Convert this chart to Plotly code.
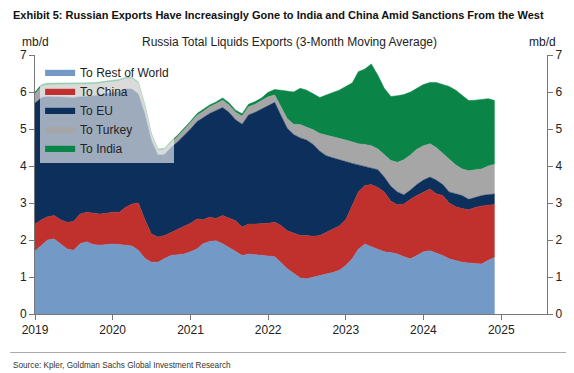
import pandas as pd
import plotly.graph_objects as go

dates = pd.date_range("2019-01-01", "2024-12-01", freq="MS")

rest_of_world = [1.70,1.85,2.00,2.03,1.90,1.76,1.72,1.90,1.95,1.88,1.86,1.88,
 1.89,1.88,1.86,1.84,1.72,1.50,1.40,1.40,1.50,1.58,1.60,1.62,
 1.68,1.76,1.90,1.96,1.98,1.90,1.80,1.68,1.58,1.62,1.60,1.58,
 1.58,1.55,1.40,1.22,1.10,0.97,0.95,1.00,1.04,1.08,1.12,1.18,
 1.31,1.50,1.75,1.89,1.82,1.75,1.68,1.66,1.62,1.55,1.49,1.58,
 1.68,1.71,1.65,1.58,1.49,1.44,1.40,1.38,1.36,1.35,1.45,1.53]

china = [0.73,0.70,0.63,0.63,0.65,0.72,0.78,0.80,0.80,0.84,0.84,0.84,
 0.86,0.87,1.02,1.13,1.28,1.05,0.76,0.68,0.62,0.62,0.68,0.74,
 0.77,0.81,0.65,0.66,0.60,0.76,0.80,0.84,0.77,0.81,0.83,0.85,
 0.87,0.93,1.00,1.03,1.08,1.15,1.17,1.10,1.08,1.12,1.16,1.20,
 1.24,1.45,1.55,1.58,1.68,1.67,1.62,1.39,1.33,1.42,1.61,1.62,
 1.62,1.67,1.60,1.62,1.51,1.46,1.45,1.44,1.52,1.57,1.49,1.43]

eu = [3.27,3.30,3.25,3.21,3.30,3.37,3.35,3.17,3.13,3.18,3.22,3.23,
 3.23,3.27,3.20,3.11,2.95,2.85,2.54,2.22,2.20,2.30,2.37,2.46,
 2.55,2.63,2.75,2.80,2.92,2.92,2.85,2.73,2.78,2.95,3.02,3.11,
 3.17,3.24,2.98,2.77,2.67,2.64,2.58,2.48,2.28,2.08,1.94,1.80,
 1.57,1.12,0.73,0.53,0.45,0.48,0.40,0.40,0.35,0.25,0.25,0.30,
 0.32,0.32,0.37,0.30,0.30,0.34,0.35,0.28,0.28,0.28,0.29,0.28]

turkey = [0.25,0.30,0.31,0.32,0.33,0.33,0.34,0.33,0.32,0.31,0.30,0.30,
 0.29,0.28,0.28,0.28,0.28,0.22,0.15,0.12,0.12,0.13,0.14,0.15,
 0.16,0.17,0.17,0.18,0.18,0.20,0.20,0.20,0.22,0.22,0.22,0.22,
 0.25,0.20,0.24,0.26,0.28,0.36,0.35,0.40,0.48,0.56,0.58,0.58,
 0.58,0.58,0.57,0.58,0.60,0.56,0.60,0.70,0.80,0.95,0.95,0.95,
 0.93,0.90,0.88,0.85,0.90,0.79,0.72,0.77,0.74,0.72,0.77,0.81]

india = [0.05,0.05,0.05,0.05,0.05,0.05,0.05,0.05,0.05,0.05,0.05,0.05,
 0.04,0.04,0.04,0.04,0.04,0.04,0.04,0.04,0.04,0.04,0.04,0.04,
 0.05,0.05,0.05,0.05,0.05,0.06,0.06,0.06,0.06,0.07,0.07,0.08,
 0.12,0.15,0.43,0.74,0.87,0.98,1.00,0.97,0.97,1.08,1.18,1.29,
 1.45,1.60,1.95,2.04,2.21,1.99,1.80,1.73,1.80,1.76,1.70,1.65,
 1.65,1.66,1.76,1.85,1.95,2.02,1.98,1.90,1.88,1.88,1.82,1.72]

series_names = ["To Rest of World", "To China", "To EU", "To Turkey", "To India"]
series_colors = ["#7399C6", "#C0312D", "#0C2F5B", "#A6A6A6", "#0B8547"]
series_values = [rest_of_world, china, eu, turkey, india]

year_ticks = ["2019", "2020", "2021", "2022", "2023", "2024", "2025"]
y_ticks = [0, 1, 2, 3, 4, 5, 6, 7]

fig = go.Figure()
for name, color, vals in zip(series_names, series_colors, series_values):
    fig.add_trace(go.Scatter(
        x=dates, y=vals, name=name, mode="lines",
        stackgroup="one", line=dict(width=0.5, color=color),
        fillcolor=color, hoverinfo="skip",
    ))

# invisible trace to activate right axis
fig.add_trace(go.Scatter(x=[dates[0]], y=[0], yaxis="y2", mode="markers",
                         marker=dict(opacity=0), showlegend=False, hoverinfo="skip"))

FONT = "Liberation Sans, Arial, sans-serif"
axis_font = dict(family=FONT, size=12, color="#222")
axis_common = dict(ticks="outside", ticklen=5, tickcolor="#777", showline=True,
                   linecolor="#777", linewidth=1, showgrid=False, zeroline=False,
                   tickfont=axis_font)

# page has an 8px body margin, so the figure is 8px smaller than the window
fig.update_layout(
    width=566, height=365,
    margin=dict(l=25, r=26, t=47, b=59),
    paper_bgcolor="white", plot_bgcolor="white",
    showlegend=True,
    legend=dict(
        x=0.01, y=0.99, xanchor="left", yanchor="top",
        bgcolor="rgba(255,255,255,0.6)", borderwidth=0,
        font=dict(family=FONT, size=12, color="#222"),
        traceorder="normal", tracegroupgap=0, itemwidth=30,
    ),
    xaxis=dict(
        type="date", range=["2019-01-01", "2025-08-04"],
        tickvals=[f"{y}-01-01" for y in year_ticks], ticktext=year_ticks,
        **axis_common,
    ),
    yaxis=dict(range=[0, 7], tickvals=y_ticks, **axis_common),
    yaxis2=dict(range=[0, 7], tickvals=y_ticks, overlaying="y", side="right",
                **axis_common),
)

def px_x(px):
    return (px - 33) / 515.0

def px_y(py):
    return (314 - py) / 259.0

ann = [
    dict(text="<b>Exhibit 5: Russian Exports Have Increasingly Gone to India and China Amid Sanctions From the West</b>",
         x=px_x(9), y=px_y(15), xanchor="left", yanchor="middle",
         font=dict(family=FONT, size=11, color="#111")),
    dict(text="Russia Total Liquids Exports (3-Month Moving Average)",
         x=px_x(289), y=px_y(42), xanchor="center", yanchor="middle",
         font=dict(family=FONT, size=12, color="#222")),
    dict(text="mb/d", x=px_x(33), y=px_y(42), xanchor="center", yanchor="middle",
         font=dict(family=FONT, size=12, color="#222")),
    dict(text="mb/d", x=px_x(543), y=px_y(42), xanchor="center", yanchor="middle",
         font=dict(family=FONT, size=12, color="#222")),
    dict(text="Source: Kpler, Goldman Sachs Global Investment Research",
         x=px_x(9), y=px_y(365), xanchor="left", yanchor="middle",
         font=dict(family=FONT, size=8.2, color="#333")),
]
for a in ann:
    a.update(xref="paper", yref="paper", showarrow=False)
fig.update_layout(annotations=ann)

fig.add_shape(type="line", xref="paper", yref="paper",
              x0=px_x(8), x1=px_x(574), y0=px_y(352.5), y1=px_y(352.5),
              line=dict(color="#AAAAAA", width=1))

fig.write_html("out.html")
